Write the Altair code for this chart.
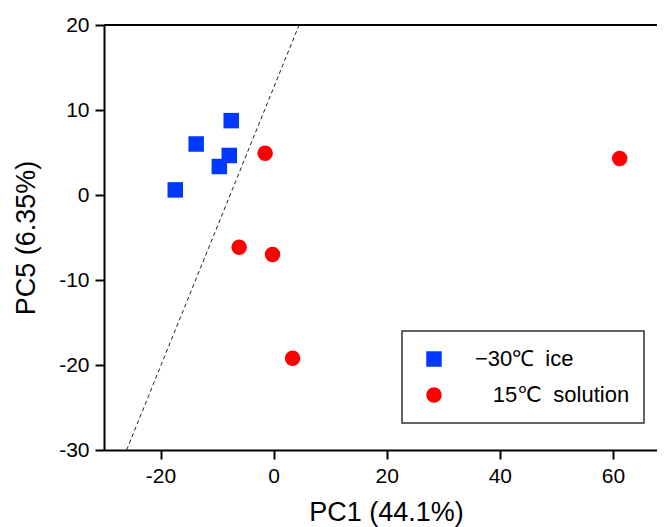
import altair as alt
import pandas as pd

# ---- data ----
groups = ["\u221230\u2103\u2002ice", "\u2800\u200a15\u2103\u2002solution"]
ice_pc1 = [-7.5, -13.7, -7.85, -9.6, -17.4]
ice_pc5 = [8.75, 6.0, 4.65, 3.35, 0.6]
sol_pc1 = [-1.5, -6.1, -0.2, 3.35, 61.2]
sol_pc5 = [4.9, -6.15, -7.0, -19.2, 4.3]
line_pc1 = [-26.0, 4.5]
line_pc5 = [-30.0, 20.0]
x_ticks = [-20, 0, 20, 40, 60]
y_ticks = [-30, -20, -10, 0, 10, 20]

pts = pd.DataFrame({
    "PC1": ice_pc1 + sol_pc1,
    "PC5": ice_pc5 + sol_pc5,
    "group": [groups[0]] * len(ice_pc1) + [groups[1]] * len(sol_pc1),
})
line_df = pd.DataFrame({"PC1": line_pc1, "PC5": line_pc5})

FONT = "Liberation Sans"
label_expr = "datum.value < 0 ? '-' + abs(datum.value) : '' + datum.value"

xscale = alt.Scale(domain=[-30, 67.8], nice=False, zero=False)
yscale = alt.Scale(domain=[-30, 20], nice=False, zero=False)

xaxis = alt.Axis(values=x_ticks, title="PC1 (44.1%)", grid=False,
                 labelExpr=label_expr, titleX=282, titleY=70,
                 titleBaseline="alphabetic", titleAnchor="middle")
yaxis = alt.Axis(values=y_ticks, title="PC5 (6.35%)", grid=False,
                 labelExpr=label_expr, titleX=-78, titleY=212.5,
                 titleBaseline="middle", titleAngle=-90)

dash = alt.Chart(line_df).mark_line(
    color="#222222", strokeWidth=1, strokeDash=[4, 3], clip=True
).encode(
    x=alt.X("PC1:Q", scale=xscale, axis=xaxis),
    y=alt.Y("PC5:Q", scale=yscale, axis=yaxis),
)

points = alt.Chart(pts).mark_point(filled=True, opacity=1, size=240).encode(
    x=alt.X("PC1:Q", scale=xscale, axis=xaxis),
    y=alt.Y("PC5:Q", scale=yscale, axis=yaxis),
    color=alt.Color("group:N", scale=alt.Scale(domain=groups, range=["#0038FF", "#FF0000"]),
                    legend=alt.Legend(title=None)),
    shape=alt.Shape("group:N", scale=alt.Scale(domain=groups, range=["square", "circle"]),
                    legend=alt.Legend(title=None)),
)

top_border = alt.Chart(pd.DataFrame({"v": [20]})).mark_rule(
    color="black", strokeWidth=2
).encode(y=alt.Y("v:Q", scale=yscale, axis=yaxis))

chart = alt.layer(dash, points, top_border).properties(
    width=553, height=425,
    autosize=alt.AutoSizeParams(type="none"),
    padding={"left": 96, "top": 17, "right": 0, "bottom": 77},
).configure_view(strokeWidth=0).configure_axis(
    labelFont=FONT, titleFont=FONT, labelFontSize=21, titleFontSize=27,
    titleFontWeight="normal", labelColor="black", titleColor="black",
    domainColor="black", domainWidth=2, tickColor="black", tickWidth=2,
    tickSize=9, labelPadding=6,
).configure_legend(
    orient="none", legendX=298, legendY=306,
    strokeColor="#333333", strokeWidth=1.5, fillColor="white",
    padding=17, symbolOffset=4, labelOffset=30, rowPadding=14,
    labelFont=FONT, labelFontSize=22, labelColor="black", labelLimit=400,
    symbolSize=240, symbolStrokeWidth=0,
)

chart.save("out.html", embed_options={"renderer": "svg", "actions": False})
